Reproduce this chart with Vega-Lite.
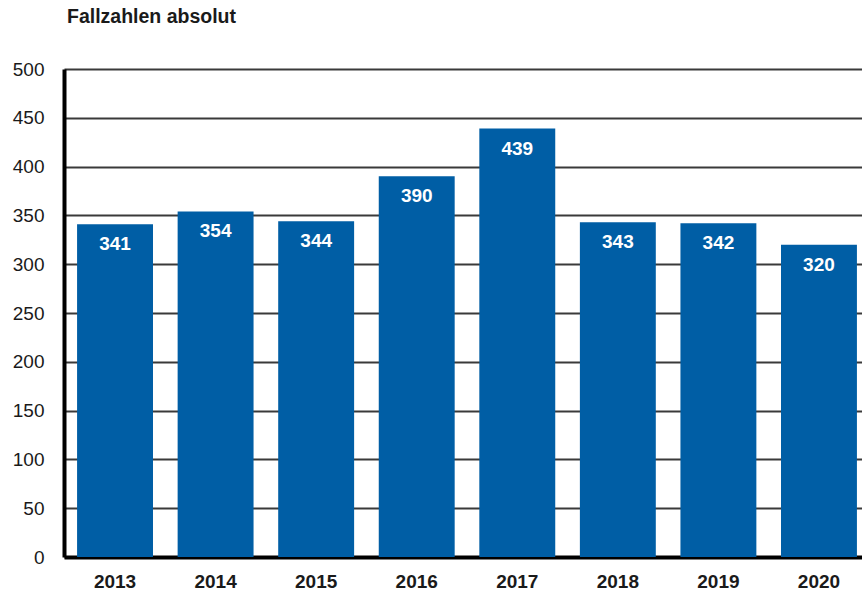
{
  "$schema": "https://vega.github.io/schema/vega-lite/v6.json",
  "autosize": "none",
  "width": 806,
  "height": 488,
  "padding": {"left": 64, "top": 69, "right": 0, "bottom": 39},
  "background": "white",
  "title": {
    "text": "Fallzahlen absolut",
    "anchor": "start",
    "frame": "group",
    "offset": 33,
    "dx": 3,
    "font": "Liberation Sans",
    "fontSize": 19.5,
    "fontWeight": "bold",
    "color": "#1a1a1a"
  },
  "config": {
    "view": {"stroke": null},
    "font": "Liberation Sans"
  },
  "data": {
    "values": [
      {"year": "2013", "value": 341},
      {"year": "2014", "value": 354},
      {"year": "2015", "value": 344},
      {"year": "2016", "value": 390},
      {"year": "2017", "value": 439},
      {"year": "2018", "value": 343},
      {"year": "2019", "value": 342},
      {"year": "2020", "value": 320}
    ]
  },
  "encoding": {
    "x": {
      "field": "year",
      "type": "nominal",
      "scale": {"paddingInner": 0.245, "paddingOuter": 0.13},
      "axis": {
        "title": null,
        "labelAngle": 0,
        "labelFont": "Liberation Sans",
        "labelFontSize": 19,
        "labelFontWeight": "bold",
        "labelColor": "#1a1a1a",
        "labelPadding": 15,
        "ticks": false,
        "domainColor": "#000000",
        "domainWidth": 4,
        "grid": false
      }
    },
    "y": {
      "field": "value",
      "type": "quantitative",
      "scale": {"domain": [0, 500], "nice": false},
      "axis": {
        "title": null,
        "values": [0, 50, 100, 150, 200, 250, 300, 350, 400, 450, 500],
        "labelFont": "Liberation Sans",
        "labelFontSize": 19,
        "labelColor": "#1a1a1a",
        "labelPadding": 20,
        "ticks": false,
        "domainColor": "#000000",
        "domainWidth": 4,
        "grid": true,
        "gridColor": "#3a3a3a",
        "gridWidth": 2,
        "zindex": 0
      }
    }
  },
  "layer": [
    {
      "mark": {"type": "bar", "color": "#005EA5"}
    },
    {
      "mark": {
        "type": "text",
        "color": "white",
        "font": "Liberation Sans",
        "fontSize": 19,
        "fontWeight": "bold",
        "baseline": "middle",
        "dy": 20
      },
      "encoding": {"text": {"field": "value", "type": "quantitative"}}
    }
  ]
}
